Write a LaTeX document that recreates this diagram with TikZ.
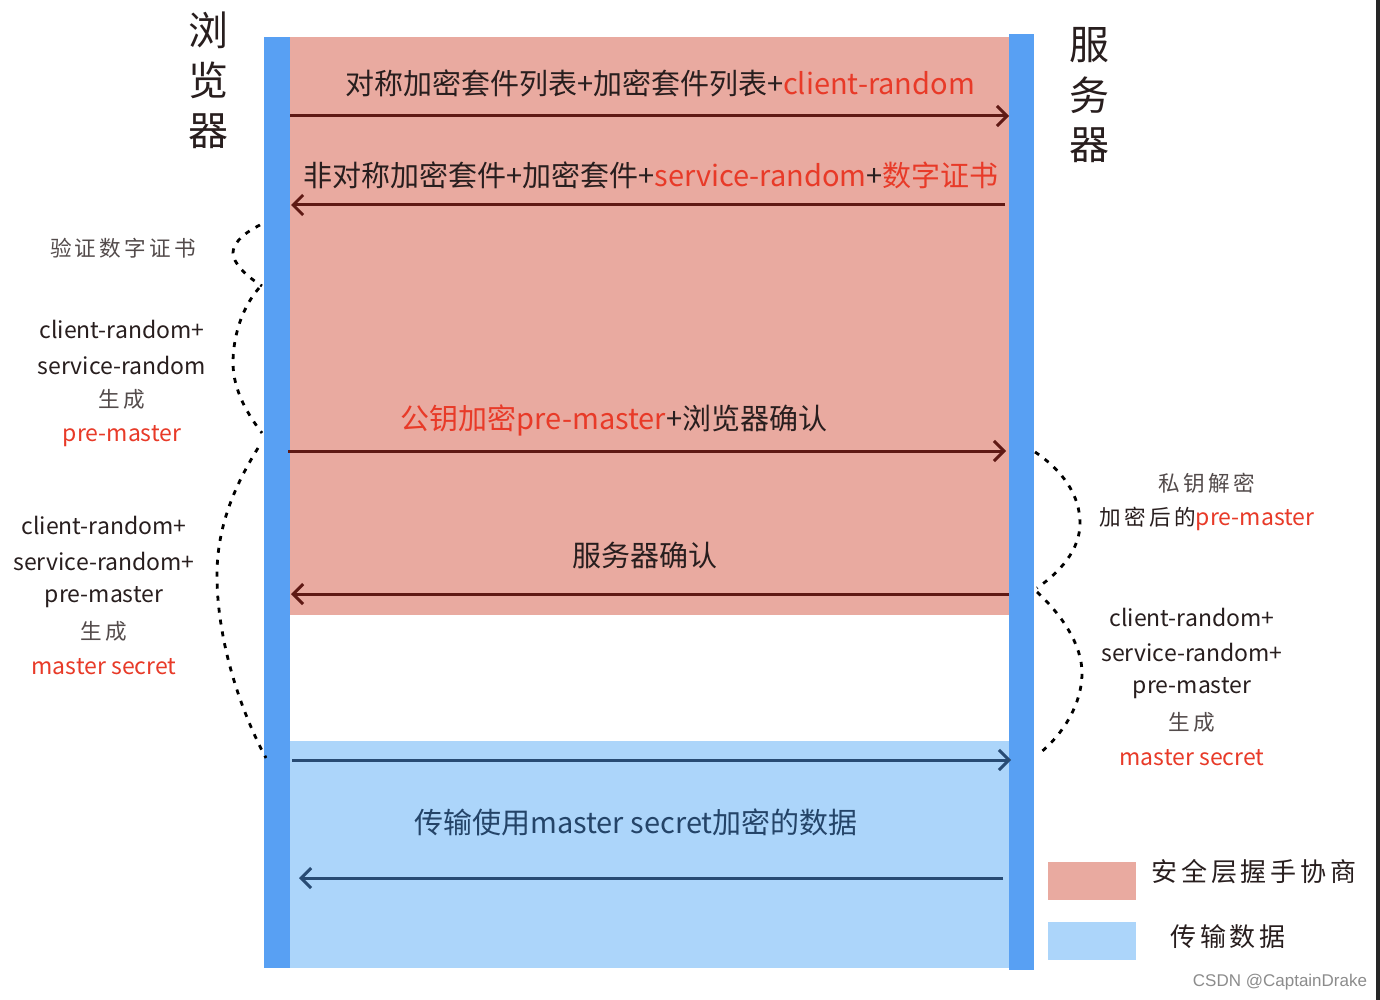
\documentclass[tikz,border=0pt]{standalone}
\usepackage{fontspec}
\newfontfamily\cjk{Noto Sans CJK SC}
\newfontfamily\cjksp{Noto Sans CJK SC}[LetterSpace=15]
\newfontfamily\wm{Liberation Sans}
\usetikzlibrary{arrows.meta}
\definecolor{pinkbg}{RGB}{233,170,160}
\definecolor{barblue}{RGB}{88,160,243}
\definecolor{lightblue}{RGB}{172,213,250}
\definecolor{arrbrown}{RGB}{95,25,20}
\definecolor{arrblue}{RGB}{40,75,115}
\definecolor{redtxt}{RGB}{232,58,40}
\definecolor{darktxt}{RGB}{40,30,30}
\tikzset{
  lbl/.style={inner sep=0pt, text=darktxt, font=\cjk\fontsize{14.5}{16}\selectfont},
  side/.style={inner sep=0pt, text=darktxt, font=\cjk\fontsize{11.5}{13}\selectfont},
  small/.style={inner sep=0pt, text=darktxt!80, font=\cjksp\fontsize{10.8}{12}\selectfont},
  legend/.style={inner sep=0pt, text=darktxt, font=\cjksp\fontsize{13}{15}\selectfont},
  title/.style={inner sep=0pt, text=darktxt, font=\cjk\fontsize{20}{22}\selectfont},
  msg/.style={line width=1.5pt, -{Straight Barb[length=5pt,width=10pt,line width=1.5pt]}},
  brace/.style={line width=1.4pt, dash pattern=on 2.5pt off 3.5pt, black},
}
\begin{document}
\begin{tikzpicture}[x=0.5pt,y=-0.5pt]
\useasboundingbox (0,0) rectangle (1380,1000);
\fill[white] (0,0) rectangle (1380,1000);
\fill[black!85] (1376,0) rectangle (1380,1000);
% regions
\fill[pinkbg] (290,37) rectangle (1009,615);
\fill[lightblue] (290,741) rectangle (1009,968);
\fill[barblue] (264,37) rectangle (290,968);
\fill[barblue] (1009,34) rectangle (1034,970);
% titles
\node[title] (b1) at (208,30) {浏};
\node[title] (b2) at (208,80) {览};
\node[title] (b3) at (208,131) {器};
\node[title] (s1) at (1089,45) {服};
\node[title] (s2) at (1089,95) {务};
\node[title] (s3) at (1089,145) {器};
% arrow endpoints
\coordinate (L1) at (290,116); \coordinate (R1) at (1009,116);
\coordinate (L2) at (291,205); \coordinate (R2) at (1005,205);
\coordinate (L3) at (288,451); \coordinate (R3) at (1006,451);
\coordinate (L4) at (291,594); \coordinate (R4) at (1009,594);
\coordinate (L5) at (292,760); \coordinate (R5) at (1011,760);
\coordinate (L6) at (299,878); \coordinate (R6) at (1003,878);
\draw[msg, arrbrown] (L1) -- (R1);
\draw[msg, arrbrown] (R2) -- (L2);
\draw[msg, arrbrown] (L3) -- (R3);
\draw[msg, arrbrown] (R4) -- (L4);
\draw[msg, arrblue] (L5) -- (R5);
\draw[msg, arrblue] (R6) -- (L6);
% arrow labels
\node[lbl] (m1) at (660,83) {对称加密套件列表+加密套件列表+\textcolor{redtxt}{client-random}};
\node[lbl] (m2) at (651,175) {非对称加密套件+加密套件+\textcolor{redtxt}{service-random}+\textcolor{redtxt}{数字证书}};
\node[lbl] (m3) at (614,420) {\textcolor{redtxt}{公钥加密pre-master}+浏览器确认};
\node[lbl] (m4) at (645,555) {服务器确认};
\node[lbl, text=arrblue!90!black] (m5) at (636,822) {传输使用master secret加密的数据};
% left side labels
\node[small] (l0) at (123,248) {验证数字证书};
\node[side] (l1) at (122,329) {client-random+};
\node[side] (l2) at (122,365) {service-random};
\node[small] (l3) at (122,399) {生成};
\node[side, text=redtxt] (l4) at (122,436) {pre-master};
\node[side] (l5) at (104,525) {client-random+};
\node[side] (l6) at (104,561) {service-random+};
\node[side] (l7) at (104,597) {pre-master};
\node[small] (l8) at (104,631) {生成};
\node[side, text=redtxt] (l9) at (104,667) {master secret};
% right side labels
\node[small] (r0) at (1207,483) {私钥解密};
\node[side] (r1) at (1207,519) {{\cjksp\fontsize{10.8}{12}\selectfont 加密后的}\textcolor{redtxt}{pre-master}};
\node[side] (r2) at (1192,617) {client-random+};
\node[side] (r3) at (1192,652) {service-random+};
\node[side] (r4) at (1192,688) {pre-master};
\node[small] (r5) at (1192,722) {生成};
\node[side, text=redtxt] (r6) at (1192,758) {master secret};
% braces
\draw[brace] (260,225) .. controls (240,235) and (233,245) .. (233,253) .. controls (233,263) and (246,276) .. (262,286);
\draw[brace] (259,288) .. controls (240,310) and (233,340) .. (233,363) .. controls (233,390) and (248,415) .. (262,433);
\draw[brace] (258,448) .. controls (232,490) and (217,530) .. (217,575) .. controls (217,640) and (240,710) .. (266,758);
\draw[brace] (1035,452) .. controls (1062,470) and (1080,495) .. (1080,523) .. controls (1080,550) and (1060,572) .. (1037,588);
\draw[brace] (1037,592) .. controls (1062,615) and (1082,645) .. (1082,673) .. controls (1082,705) and (1062,735) .. (1040,753);
% legend
\fill[pinkbg] (1048,862) rectangle (1136,900);
\fill[lightblue] (1048,922) rectangle (1136,960);
\node[legend] (g1) at (1254,872) {安全层握手协商};
\node[legend] (g2) at (1228,937) {传输数据};
\node[inner sep=0pt, text=black!45, font=\wm\fontsize{8.5}{10}\selectfont] (wm) at (1280,982) {CSDN @CaptainDrake};
\end{tikzpicture}
\end{document}
